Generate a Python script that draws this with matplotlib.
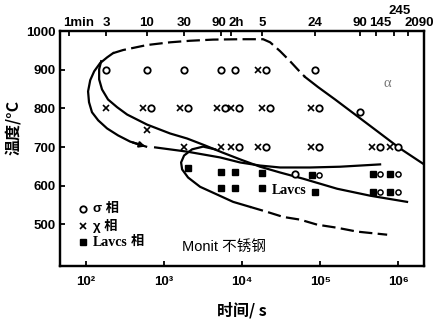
import matplotlib
matplotlib.use("Agg")
import matplotlib.pyplot as plt
import matplotlib.transforms as mtransforms
from matplotlib.ticker import NullLocator

plt.rcParams["font.family"] = ["Liberation Sans", "DejaVu Sans"]
plt.rcParams["font.weight"] = "bold"

# axis ticks
bottom_ticks = [1e2, 1e3, 1e4, 1e5, 1e6]
bottom_labels = ["10²", "10³", "10⁴", "10⁵", "10⁶"]
top_ticks = [60, 180, 600, 1800, 5400, 7200, 18000, 86400, 324000, 522000, 882000, 1.34e6]
top_labels = ["1min", "3", "10", "30", "90", "2h", "5", "24", "90", "145", "245", "2090"]
temp_ticks = [500, 600, 700, 800, 900, 1000]

# phase boundaries (time s, temperature C)
sigma_dash_t = [222, 298, 605, 1194, 2154, 4246, 9420, 18580, 22860, 30700, 41230, 55400, 64300]
sigma_dash_T = [943, 951, 964, 971, 975, 978, 979, 979, 971, 948, 922, 894, 881]
sigma_right_t = [64300, 94200, 155600, 281000, 507000, 1.062e6, 2.15e6]
sigma_right_T = [881, 855, 823, 784, 745, 696, 655]
chi_nose_t = [222, 186, 151, 127, 113, 106, 109, 119, 143, 186, 257, 367, 588]
chi_nose_T = [943, 932, 917, 896, 873, 844, 816, 790, 769, 748, 730, 714, 701]
chi_low_t = [767, 1972, 5224, 9420, 17000, 30700, 74500, 180300, 587000]
chi_low_T = [699, 688, 673, 660, 652, 647, 647, 649, 655]
sigma_low_t = [156, 147, 147, 160, 191, 250, 336, 605, 1194, 1972, 3356, 5546, 9420,
               17000, 30700, 60500, 165000, 437000, 1.30e6]
sigma_low_T = [922, 901, 875, 849, 823, 803, 784, 758, 735, 722, 704, 686, 668,
               649, 634, 618, 592, 574, 558]
laves_t = [4508, 3162, 2285, 1803, 1651, 1702, 2030, 2894, 4775, 7670, 12670]
laves_T = [694, 701, 694, 678, 660, 642, 621, 597, 577, 558, 545]
laves_dash_t = [12670, 20940, 33600, 55400, 91600, 165000, 298000, 723000]
laves_dash_T = [545, 532, 519, 512, 499, 491, 481, 473]

# experiment points
o_t = [180, 600, 1800, 5400, 8000, 86400, 324000, 47000]
o_T = [900, 900, 900, 900, 900, 900, 790, 630]
x_t = [180, 600, 1800, 5400]
x_T = [800, 745, 700, 700]
xo_t = [18000, 600, 1800, 5400, 8000, 20000, 86400, 8000, 18000, 86400, 522000, 882000]
xo_T = [900, 800, 800, 800, 800, 800, 800, 700, 700, 700, 700, 700]
sq_t = [2000, 5400, 8000, 18000, 5400, 8000, 18000, 86400]
sq_T = [645, 636, 636, 634, 595, 595, 595, 584]
sqo_t = [86400, 522000, 882000, 522000, 882000]
sqo_T = [628, 631, 631, 584, 584]

fig = plt.figure(figsize=(4.45, 3.24), dpi=100)
ax = fig.add_axes([0.135, 0.179, 0.818, 0.725])
ax.set_xscale("log")
xlim = (46.4, 2.15e6)
ax.set_xlim(xlim)
ax.set_ylim(392, 1000)


def shifted(dx):
    return ax.transData + mtransforms.ScaledTranslation(dx / 72, 0, fig.dpi_scale_trans)


lw = 1.6
dash = (0, (6, 2.4))
ax.plot(sigma_dash_t, sigma_dash_T, color="k", lw=lw, ls=dash)
ax.plot(sigma_right_t, sigma_right_T, color="k", lw=lw)
ax.plot(chi_nose_t, chi_nose_T, color="k", lw=lw)
ax.annotate("", xy=(chi_nose_t[-1] * 1.06, chi_nose_T[-1] - 2),
            xytext=(chi_nose_t[-2], chi_nose_T[-2]),
            arrowprops=dict(arrowstyle="-|>", color="k", lw=lw, mutation_scale=8))
ax.plot(chi_low_t, chi_low_T, color="k", lw=lw)
ax.plot(sigma_low_t, sigma_low_T, color="k", lw=lw)
ax.plot(laves_t, laves_T, color="k", lw=lw)
ax.plot(laves_dash_t, laves_dash_T, color="k", lw=lw, ls=dash)

ms_o = dict(marker="o", ms=4.6, mfc="white", mec="k", mew=1.3, ls="none")
ms_x = dict(marker="x", ms=4.3, mec="k", mew=1.2, ls="none")
ms_s = dict(marker="s", ms=4.3, mfc="k", mec="k", ls="none")

ax.plot(o_t, o_T, **ms_o)
ax.plot(x_t, x_T, **ms_x)
ax.plot(xo_t, xo_T, transform=shifted(-2.9), **ms_x)
ax.plot(xo_t, xo_T, transform=shifted(2.9), **ms_o)
ax.plot(sq_t, sq_T, **ms_s)
ax.plot(sqo_t, sqo_T, transform=shifted(-2.5), **ms_s)
ax.plot(sqo_t, sqo_T, transform=shifted(2.7), **dict(ms_o, ms=3.7, mew=1.1))

# annotations
ax.text(2.4e4, 588, "Lavcs", family=["Liberation Serif"], fontsize=10,
        fontweight="bold", va="center", ha="left")
ax.text(0.898, 0.779, "α", transform=ax.transAxes, color="#777777",
        family=["Liberation Serif"], fontsize=10.5, fontweight="normal",
        ha="center", va="center")
ax.text(0.335, 0.081, "Monit 不锈钢", transform=ax.transAxes,
        family=["Liberation Sans", "Noto Sans CJK SC"], fontsize=10.5,
        fontweight="medium", ha="left", va="center")

# legend
leg_y = [0.243, 0.170, 0.102]
ax.plot([0.063], [leg_y[0]], transform=ax.transAxes, **ms_o)
ax.plot([0.063], [leg_y[1]], transform=ax.transAxes, **ms_x)
ax.plot([0.063], [leg_y[2]], transform=ax.transAxes, **ms_s)
cjk = ["Liberation Sans", "Noto Sans CJK SC"]
ax.text(0.091, leg_y[0], "σ 相", transform=ax.transAxes, family=cjk,
        fontsize=9.5, va="center")
ax.text(0.091, leg_y[1], "χ 相", transform=ax.transAxes, family=cjk,
        fontsize=9.5, va="center")
ax.text(0.091, leg_y[2], "Lavcs", transform=ax.transAxes,
        family=["Liberation Serif"], fontsize=10, va="center")
ax.text(0.193, leg_y[2], "相", transform=ax.transAxes, family=cjk,
        fontsize=9.5, va="center")

# axes styling
for sp in ax.spines.values():
    sp.set_linewidth(1.6)
ax.set_xticks(bottom_ticks, bottom_labels)
ax.xaxis.set_minor_locator(NullLocator())
ax.set_yticks(temp_ticks)
ax.tick_params(direction="in", length=3.5, width=1.3, labelsize=9.5)
ax.tick_params(axis="x", pad=7)
ax.tick_params(axis="y", pad=3.5)

top = ax.twiny()
top.set_xscale("log")
top.set_xlim(xlim)
top.set_xticks(top_ticks, top_labels)
top.xaxis.set_minor_locator(NullLocator())
top.tick_params(direction="in", length=3.5, width=1.3, labelsize=9.5, pad=1.5)
for sp in top.spines.values():
    sp.set_linewidth(1.6)

offsets = {"1min": (7, 0), "2h": (3.5, 0), "145": (3, 0), "245": (4, 9), "2090": (8, 0)}
for i, lab in enumerate(top.get_xticklabels()):
    dx, dy = offsets.get(lab.get_text(), (0, 0))
    if i == 4:
        dx = -1.5
    if dx or dy:
        lab.set_transform(lab.get_transform() +
                          mtransforms.ScaledTranslation(dx / 72, dy / 72, fig.dpi_scale_trans))

ax.set_ylabel("温度/°C", family=["Noto Sans CJK SC"], fontsize=11.5, fontweight="bold")
ax.yaxis.set_label_coords(-0.105, 0.59)
ax.set_xlabel("时间/ s", family=["Noto Sans CJK SC"], fontsize=11.5, fontweight="bold")
ax.xaxis.set_label_coords(0.5, -0.155)

fig.savefig("out.png", dpi=100)
